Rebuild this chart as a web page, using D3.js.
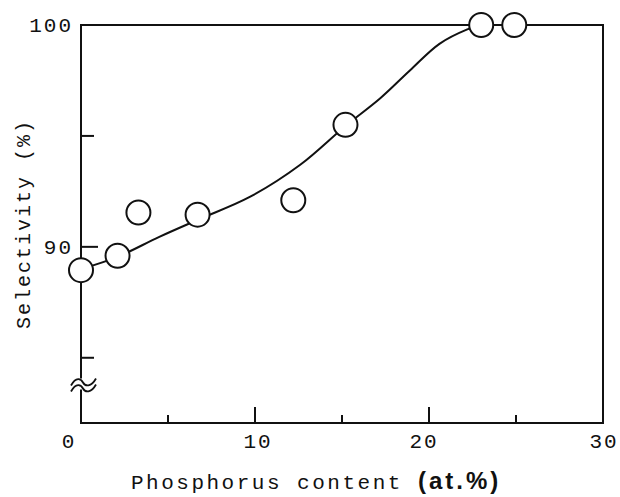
<!DOCTYPE html>
<html>
<head>
<meta charset="utf-8">
<script src="https://cdn.jsdelivr.net/npm/d3@7"></script>
<style>
  body { margin: 0; background: #fff; }
  svg { display: block; }
  text { font-family: "Liberation Mono", "DejaVu Sans Mono", monospace; fill: #111; }
</style>
</head>
<body>
<div id="chart"></div>
<script>
// measured points (P content at.%, selectivity %)
const pointP   = [0, 2.1, 3.3, 6.7, 12.2, 15.2, 23.0, 24.9];
const pointSel = [88.95, 89.6, 91.55, 91.45, 92.1, 95.5, 100, 100];

// hand drawn trend curve
const curveP   = [0, 2.1, 4.5, 6.8, 9.7, 12.6, 15.2, 17.2, 18.9, 20.6, 22.2, 23.0];
const curveSel = [89.0, 89.55, 90.45, 91.25, 92.25, 93.7, 95.45, 96.7, 97.95, 99.15, 99.8, 100];

// ticks
const xMajor = [0, 10, 20, 30];
const xMinor = [5, 15, 25];
const xLabels = ["0", "10", "20", "30"];
const yMajor = [100, 90];
const yMinor = [95, 85];
const yLabels = ["100", "90"];
const yBreak = 83.75;

const width = 620, height = 497;
const margin = {top: 25, right: 17, bottom: 74, left: 81};

const svg = d3.select("#chart").append("svg")
    .attr("width", width)
    .attr("height", height);

// set the ranges
var x = d3.scaleLinear().domain([0, 30]).range([margin.left, width - margin.right]);
var y = d3.scaleLinear().domain([82.06, 100]).range([height - margin.bottom, margin.top]);

const ink = "#111";

// frame (left axis drawn in two parts round the break)
const x0 = x(0), x1 = x(30), yT = y(100), yB = y(82.06);
const yb = y(yBreak);
svg.append("path")
    .attr("d", `M${x0},${yb - 7} L${x0},${yT} L${x1},${yT} L${x1},${yB} L${x0},${yB} L${x0},${yb + 4}`)
    .attr("fill", "none")
    .attr("stroke", ink)
    .attr("stroke-width", 2);

// axis break: two little waves
[-3, 3].forEach(function(off) {
  const c = yb + off;
  svg.append("path")
    .attr("d", `M${x0 - 10},${c + 3} C${x0 - 5},${c - 6} ${x0},${c - 4} ${x0 + 2},${c}` +
               ` S${x0 + 10},${c + 5} ${x0 + 15},${c - 4}`)
    .attr("fill", "none")
    .attr("stroke", ink)
    .attr("stroke-width", 1.8);
});

// x ticks
svg.selectAll(".xmaj").data(xMajor.slice(1, -1)).enter().append("line")
    .attr("x1", d => x(d)).attr("x2", d => x(d))
    .attr("y1", yB).attr("y2", yB - 16)
    .attr("stroke", ink).attr("stroke-width", 2);
svg.selectAll(".xmin").data(xMinor).enter().append("line")
    .attr("x1", d => x(d)).attr("x2", d => x(d))
    .attr("y1", yB).attr("y2", yB - 8)
    .attr("stroke", ink).attr("stroke-width", 2);

// y ticks
svg.selectAll(".ymaj").data(yMajor.slice(1)).enter().append("line")
    .attr("x1", x0).attr("x2", x0 + 17)
    .attr("y1", d => y(d)).attr("y2", d => y(d))
    .attr("stroke", ink).attr("stroke-width", 2);
svg.selectAll(".ymin").data(yMinor).enter().append("line")
    .attr("x1", x0).attr("x2", x0 + 13)
    .attr("y1", d => y(d)).attr("y2", d => y(d))
    .attr("stroke", ink).attr("stroke-width", 2);

// tick labels
const xShift = [-13, 2, -6, 0];
svg.selectAll(".xlab").data(xMajor).enter().append("text")
    .attr("x", (d, i) => x(d) + xShift[i] + 1)
    .attr("y", yB + 25)
    .attr("text-anchor", "middle")
    .attr("font-size", 21)
    .attr("letter-spacing", 2)
    .text((d, i) => xLabels[i]);

svg.selectAll(".ylab").data(yMajor).enter().append("text")
    .attr("x", x0 - 8)
    .attr("y", d => y(d) + 7)
    .attr("text-anchor", "end")
    .attr("font-size", 21)
    .attr("letter-spacing", 2)
    .text((d, i) => yLabels[i]);

// axis titles
const xt = svg.append("text")
    .attr("x", 131)
    .attr("y", 489)
    .attr("font-size", 21)
    .attr("letter-spacing", 2.5);
xt.append("tspan").text("Phosphorus content ");
xt.append("tspan")
    .attr("font-family", "'Liberation Sans', Arial, sans-serif")
    .attr("font-weight", "bold")
    .attr("letter-spacing", 3)
    .attr("font-size", 24)
    .text("(at.%)");

svg.append("text")
    .attr("transform", "translate(30,224) rotate(-90)")
    .attr("text-anchor", "middle")
    .attr("font-size", 20)
    .attr("letter-spacing", 2)
    .text("Selectivity (%)");

// trend curve
const curveData = curveP.map((p, i) => ({p: p, s: curveSel[i]}));
var valueline = d3.line()
    .x(d => x(d.p))
    .y(d => y(d.s))
    .curve(d3.curveCatmullRom.alpha(0.5));

svg.append("path")
    .datum(curveData)
    .attr("d", valueline)
    .attr("fill", "none")
    .attr("stroke", ink)
    .attr("stroke-width", 2);

// data circles
const pts = pointP.map((p, i) => ({p: p, s: pointSel[i]}));
svg.selectAll(".pt").data(pts).enter().append("circle")
    .attr("cx", d => x(d.p))
    .attr("cy", d => y(d.s))
    .attr("r", 12)
    .attr("fill", "#fff")
    .attr("stroke", ink)
    .attr("stroke-width", 2);
</script>
</body>
</html>
